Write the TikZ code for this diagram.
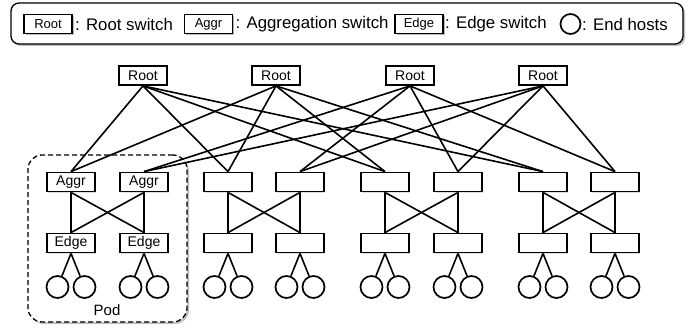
\documentclass[tikz,border=0pt]{standalone}
\usepackage{fontspec}
\setmainfont{Liberation Sans}
\usepackage{tikz}
\usetikzlibrary{shadows}
\tikzstyle{switch}=[fill=white, draw=black, shape=rectangle, line width=1.8pt, minimum width=48pt, minimum height=19pt, inner sep=0pt, font=\fontsize{14}{16}\selectfont, drop shadow={shadow xshift=1pt, shadow yshift=-1pt, opacity=0.25}]
\tikzstyle{key switch}=[style=switch, line width=1.5pt, font=\fontsize{13}{15}\selectfont, drop shadow={shadow xshift=1.5pt, shadow yshift=-1.5pt, opacity=0.5}]
\tikzstyle{host}=[fill=white, draw=black, shape=circle, line width=1.7pt, minimum size=22pt, inner sep=0pt]
\tikzstyle{link}=[-, draw=black, line width=1.6pt]
\tikzstyle{pod frame}=[fill=white, draw=black, line width=1.3pt, dash pattern=on 5pt off 3pt, rounded corners=14pt, minimum width=159pt, minimum height=167pt, drop shadow={shadow xshift=2pt, shadow yshift=-2pt, opacity=0.5}]
\tikzstyle{key frame}=[fill=white, draw=black, line width=1.3pt, rounded corners=8pt, minimum width=672pt, minimum height=41pt, drop shadow={shadow xshift=2pt, shadow yshift=-2pt, opacity=0.5}]
\tikzstyle{key text}=[anchor=west, inner sep=0pt, font=\fontsize{16.8}{19}\selectfont]
\tikzstyle{pod text}=[inner sep=0pt, font=\fontsize{15}{18}\selectfont]
\pgfdeclarelayer{backlayer}
\pgfdeclarelayer{edgelayer}
\pgfdeclarelayer{nodelayer}
\pgfsetlayers{backlayer,edgelayer,nodelayer,main}

\begin{document}
\begin{tikzpicture}[x=1pt, y=-1pt]
	\useasboundingbox (0, 0) rectangle (689, 329);
	\begin{pgfonlayer}{backlayer}
		\node [style=key frame] (38) at (347, 23.5) {};
		\node [style=pod frame] (36) at (107.5, 238.5) {};
	\end{pgfonlayer}
	\begin{pgfonlayer}{nodelayer}
		% legend
		\node [style=key switch] (39) at (48, 24) {Root};
		\node [style=key text] (40) at (75, 24) {: Root switch};
		\node [style=key switch] (41) at (208.5, 24) {Aggr};
		\node [style=key text] (42) at (235.5, 24) {: Aggregation switch};
		\node [style=key switch] (43) at (419, 24) {Edge};
		\node [style=key text] (44) at (445, 24) {: Edge switch};
		\node [style=host, minimum size=20pt] (45) at (570.5, 24) {};
		\node [style=key text] (46) at (582, 24) {: End hosts};
		% roots
		\node [style=switch] (0) at (143, 75.5) {Root};
		\node [style=switch] (1) at (276, 75.5) {Root};
		\node [style=switch] (2) at (410, 75.5) {Root};
		\node [style=switch] (3) at (543, 75.5) {Root};
		% aggregation
		\node [style=switch] (4) at (71, 182) {Aggr};
		\node [style=switch] (5) at (144, 182) {Aggr};
		\node [style=switch] (6) at (228, 182) {};
		\node [style=switch] (7) at (300, 182) {};
		\node [style=switch] (8) at (385, 182) {};
		\node [style=switch] (9) at (458, 182) {};
		\node [style=switch] (10) at (543, 182) {};
		\node [style=switch] (11) at (615, 182) {};
		% edge
		\node [style=switch] (12) at (71, 243) {Edge};
		\node [style=switch] (13) at (144, 243) {Edge};
		\node [style=switch] (14) at (228, 243) {};
		\node [style=switch] (15) at (300, 243) {};
		\node [style=switch] (16) at (385, 243) {};
		\node [style=switch] (17) at (458, 243) {};
		\node [style=switch] (18) at (543, 243) {};
		\node [style=switch] (19) at (615, 243) {};
		% hosts
		\node [style=host] (20) at (57.5, 287) {};
		\node [style=host] (21) at (84.5, 287) {};
		\node [style=host] (22) at (130.5, 287) {};
		\node [style=host] (23) at (157.5, 287) {};
		\node [style=host] (24) at (214.5, 287) {};
		\node [style=host] (25) at (241.5, 287) {};
		\node [style=host] (26) at (286.5, 287) {};
		\node [style=host] (27) at (313.5, 287) {};
		\node [style=host] (28) at (371.5, 287) {};
		\node [style=host] (29) at (398.5, 287) {};
		\node [style=host] (30) at (444.5, 287) {};
		\node [style=host] (31) at (471.5, 287) {};
		\node [style=host] (32) at (529.5, 287) {};
		\node [style=host] (33) at (556.5, 287) {};
		\node [style=host] (34) at (601.5, 287) {};
		\node [style=host] (35) at (628.5, 287) {};
		\node [style=pod text] (37) at (107, 310) {Pod};
	\end{pgfonlayer}
	\begin{pgfonlayer}{edgelayer}
		\draw [style=link] (0.south) to (4.north);
		\draw [style=link] (0.south) to (6.north);
		\draw [style=link] (0.south) to (8.north);
		\draw [style=link] (0.south) to (10.north);
		\draw [style=link] (1.south) to (4.north);
		\draw [style=link] (1.south) to (6.north);
		\draw [style=link] (1.south) to (8.north);
		\draw [style=link] (1.south) to (10.north);
		\draw [style=link] (2.south) to (5.north);
		\draw [style=link] (2.south) to (7.north);
		\draw [style=link] (2.south) to (9.north);
		\draw [style=link] (2.south) to (11.north);
		\draw [style=link] (3.south) to (5.north);
		\draw [style=link] (3.south) to (7.north);
		\draw [style=link] (3.south) to (9.north);
		\draw [style=link] (3.south) to (11.north);
		\draw [style=link] (4.south) to (12.north);
		\draw [style=link] (4.south) to (13.north);
		\draw [style=link] (5.south) to (12.north);
		\draw [style=link] (5.south) to (13.north);
		\draw [style=link] (6.south) to (14.north);
		\draw [style=link] (6.south) to (15.north);
		\draw [style=link] (7.south) to (14.north);
		\draw [style=link] (7.south) to (15.north);
		\draw [style=link] (8.south) to (16.north);
		\draw [style=link] (8.south) to (17.north);
		\draw [style=link] (9.south) to (16.north);
		\draw [style=link] (9.south) to (17.north);
		\draw [style=link] (10.south) to (18.north);
		\draw [style=link] (10.south) to (19.north);
		\draw [style=link] (11.south) to (18.north);
		\draw [style=link] (11.south) to (19.north);
		\draw [style=link] (12.south) to (20);
		\draw [style=link] (12.south) to (21);
		\draw [style=link] (13.south) to (22);
		\draw [style=link] (13.south) to (23);
		\draw [style=link] (14.south) to (24);
		\draw [style=link] (14.south) to (25);
		\draw [style=link] (15.south) to (26);
		\draw [style=link] (15.south) to (27);
		\draw [style=link] (16.south) to (28);
		\draw [style=link] (16.south) to (29);
		\draw [style=link] (17.south) to (30);
		\draw [style=link] (17.south) to (31);
		\draw [style=link] (18.south) to (32);
		\draw [style=link] (18.south) to (33);
		\draw [style=link] (19.south) to (34);
		\draw [style=link] (19.south) to (35);
	\end{pgfonlayer}
\end{tikzpicture}
\end{document}
